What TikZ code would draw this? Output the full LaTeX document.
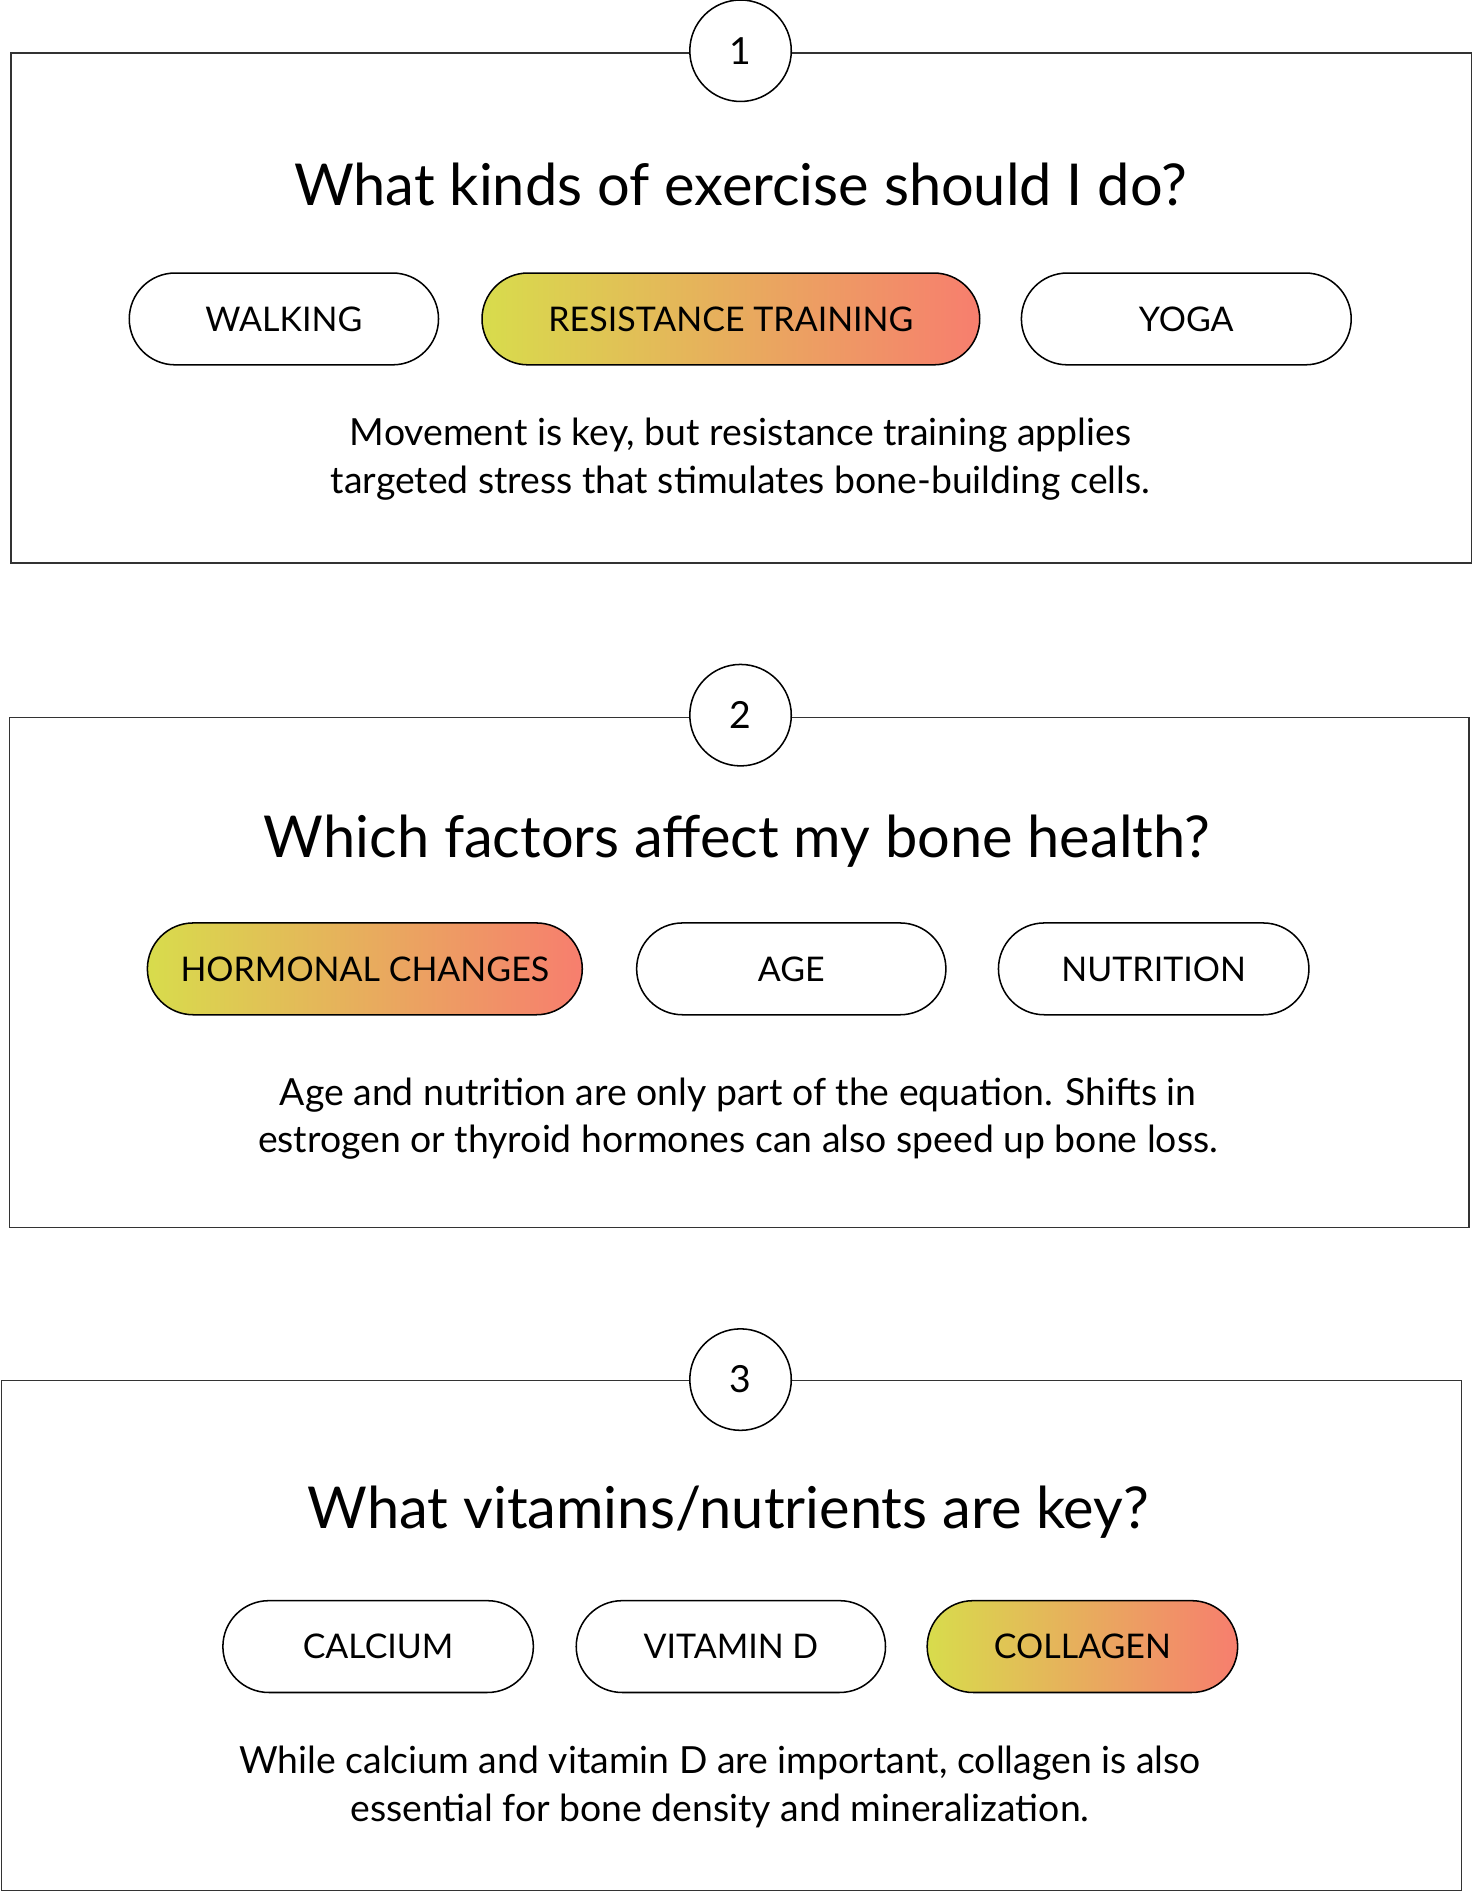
\documentclass[tikz,border=0pt]{standalone}
\usepackage{fontspec}
\setmainfont{Lato}
\definecolor{gy}{HTML}{D8DC4C}
\definecolor{gr}{HTML}{F77E6E}
\begin{document}
\begin{tikzpicture}[x=0.05cm,y=-0.05cm,
  frame/.style={draw=black!80,line width=1.6pt},
  num/.style={circle,draw=black,line width=1.8pt,fill=white,minimum size=84*0.05cm,inner sep=0pt,font=\fontsize{44}{50}\selectfont},
  ttl/.style={font=\fontsize{68}{80}\selectfont},
  pill/.style={draw=black,line width=1.8pt,rounded corners=38*0.05cm,minimum height=76*0.05cm,inner sep=0pt,font=\fontsize{40}{46}\selectfont},
  hot/.style={pill,left color=gy,right color=gr},
  body/.style={align=center,font=\fontsize{44}{56}\selectfont}]
\useasboundingbox (0,0) rectangle (1220,1567);
% box 1
\draw[frame] (9,44) rectangle (1218,466);
\node[num] (n1) at (613,42) {1};
\node[ttl] (t1) at (613,153) {What kinds of exercise should I do?};
\node[pill,minimum width=256*0.05cm] (p11) at (235,264) {WALKING};
\node[hot,minimum width=412*0.05cm] (p12) at (605,264) {RESISTANCE TRAINING};
\node[pill,minimum width=273*0.05cm] (p13) at (982,264) {YOGA};
\node[body] (b1) at (613,380) {Movement is key, but resistance training applies\\targeted stress that stimulates bone-building cells.};
% box 2
\draw[frame] (8,594) rectangle (1216,1016);
\node[num] (n2) at (613,592) {2};
\node[ttl] (t2) at (610,696) {Which factors affect my bone health?};
\node[hot,minimum width=360*0.05cm] (p21) at (302,802) {HORMONAL CHANGES};
\node[pill,minimum width=256*0.05cm] (p22) at (655,802) {AGE};
\node[pill,minimum width=257*0.05cm] (p23) at (955,802) {NUTRITION};
\node[body] (b2) at (611,926) {Age and nutrition are only part of the equation. Shifts in\\estrogen or thyroid hormones can also speed up bone loss.};
% box 3
\draw[frame] (1,1143) rectangle (1210,1565);
\node[num] (n3) at (613,1142) {3};
\node[ttl] (t3) at (603,1252) {What vitamins/nutrients are key?};
\node[pill,minimum width=257*0.05cm] (p31) at (313,1363) {CALCIUM};
\node[pill,minimum width=256*0.05cm] (p32) at (605,1363) {VITAMIN D};
\node[hot,minimum width=257*0.05cm] (p33) at (896,1363) {COLLAGEN};
\node[body] (b3) at (596,1479) {While calcium and vitamin D are important, collagen is also\\essential for bone density and mineralization.};
\end{tikzpicture}
\end{document}
